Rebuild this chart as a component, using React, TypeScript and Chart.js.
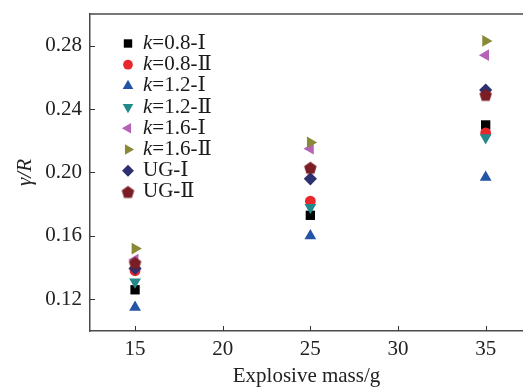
import React, { useEffect, useRef } from "react";
import { Chart, registerables } from "chart.js";
import { drawPoint } from "chart.js/helpers";

Chart.register(...registerables);

// ---------- data ----------
const MASSES = [15, 25, 35];
const K08_I = [0.126, 0.173, 0.230];
const K08_II = [0.138, 0.182, 0.225];
const K12_I = [0.115, 0.160, 0.197];
const K12_II = [0.131, 0.178, 0.222];
const K16_I = [0.145, 0.215, 0.274];
const K16_II = [0.152, 0.219, 0.283];
const UG_I = [0.1395, 0.196, 0.252];
const UG_II = [0.143, 0.203, 0.249];

const SERIES_LABELS = [
  "k=0.8-\u2160",
  "k=0.8-\u2161",
  "k=1.2-\u2160",
  "k=1.2-\u2161",
  "k=1.6-\u2160",
  "k=1.6-\u2161",
  "UG-\u2160",
  "UG-\u2161",
];
const X_TICKS = [15, 20, 25, 30, 35];
const Y_TICKS = [0.12, 0.16, 0.2, 0.24, 0.28];
const X_RANGE = [12.43, 37.13];
const Y_RANGE = [0.1, 0.3];
const X_TITLE = "Explosive mass/g";
const Y_TITLE = "\u03b3/R";

const FONT = "'Liberation Serif', 'DejaVu Serif', 'Times New Roman', serif";
const FS = 21;

function makePentagon(color: string, size: number, r: number) {
  const c = document.createElement("canvas");
  c.width = size;
  c.height = size;
  const ctx = c.getContext("2d")!;
  const cx = size / 2;
  const cy = size / 2 + (r * (1 - Math.cos(Math.PI / 5))) / 2;
  ctx.beginPath();
  for (let i = 0; i < 5; i++) {
    const a = -Math.PI / 2 + (i * 2 * Math.PI) / 5;
    const px = cx + r * Math.cos(a);
    const py = cy + r * Math.sin(a);
    if (i === 0) ctx.moveTo(px, py);
    else ctx.lineTo(px, py);
  }
  ctx.closePath();
  ctx.fillStyle = color;
  ctx.fill();
  return c;
}

export default function App() {
  const ref = useRef<HTMLCanvasElement | null>(null);

  useEffect(() => {
    if (!ref.current) return;
    const pentagon = makePentagon("#7a1d24", 15, 6.6);

    const styles: any[] = [
      { color: "#000000", pointStyle: "rect", rotation: 0, radius: 6.6 },
      { color: "#e8282c", pointStyle: "circle", rotation: 0, radius: 5.4 },
      { color: "#2454a6", pointStyle: "triangle", rotation: 0, radius: 6.8 },
      { color: "#23898a", pointStyle: "triangle", rotation: 180, radius: 6.8 },
      { color: "#b463b6", pointStyle: "triangle", rotation: 270, radius: 6.8 },
      { color: "#8a8a36", pointStyle: "triangle", rotation: 90, radius: 6.8 },
      { color: "#2c2f70", pointStyle: "rectRot", rotation: 0, radius: 6.6 },
      { color: "#7a1d24", pointStyle: pentagon, rotation: 0, radius: 6.6 },
    ];
    const values = [K08_I, K08_II, K12_I, K12_II, K16_I, K16_II, UG_I, UG_II];
    const n = values.length;

    const datasets = values.map((vals, i) => ({
      label: SERIES_LABELS[i],
      data: MASSES.map((m, j) => ({ x: m, y: vals[j] })),
      pointStyle: styles[i].pointStyle,
      rotation: styles[i].rotation,
      pointRadius: styles[i].radius,
      pointHoverRadius: styles[i].radius,
      pointBackgroundColor: styles[i].color,
      pointBorderWidth: 0,
      borderWidth: 0,
      showLine: false,
      order: n - i,
    }));

    const decor = {
      id: "decor",
      afterDraw(chart: any) {
        const { ctx, chartArea } = chart;
        const { left, right, top, bottom } = chartArea;
        const xs = chart.scales.x;
        const ys = chart.scales.y;
        ctx.save();
        // top frame line
        ctx.strokeStyle = "#4a4a4a";
        ctx.lineWidth = 1.5;
        ctx.beginPath();
        ctx.moveTo(left, top);
        ctx.lineTo(right, top);
        ctx.stroke();
        // inward ticks
        ctx.strokeStyle = "#333";
        ctx.lineWidth = 1;
        ctx.beginPath();
        X_TICKS.forEach((v) => {
          const px = Math.round(xs.getPixelForValue(v)) + 0.5;
          ctx.moveTo(px, bottom);
          ctx.lineTo(px, bottom - 5);
        });
        Y_TICKS.forEach((v) => {
          const py = Math.round(ys.getPixelForValue(v)) + 0.5;
          ctx.moveTo(left, py);
          ctx.lineTo(left + 5, py);
        });
        ctx.stroke();

        // legend
        const mx = 128;
        const tx = 143;
        const y0 = 43.5;
        const dy = 21.2;
        ctx.textBaseline = "middle";
        ctx.textAlign = "left";
        SERIES_LABELS.forEach((lab, i) => {
          const yy = y0 + i * dy;
          ctx.fillStyle = styles[i].color;
          drawPoint(
            ctx,
            {
              pointStyle: styles[i].pointStyle,
              rotation: styles[i].rotation,
              radius: styles[i].radius * 0.9,
              borderWidth: 0,
            } as any,
            mx,
            yy
          );
          ctx.fillStyle = "#1a1a1a";
          let x = tx;
          let rest = lab;
          if (lab.startsWith("k")) {
            ctx.font = `italic ${FS}px ${FONT}`;
            ctx.fillText("k", x, yy);
            x += ctx.measureText("k").width;
            rest = lab.slice(1);
          }
          ctx.font = `${FS}px ${FONT}`;
          ctx.fillText(rest, x, yy);
        });
        ctx.restore();
      },
    };

    const chart = new Chart(ref.current, {
      type: "scatter",
      data: { datasets },
      plugins: [decor],
      options: {
        animation: false,
        responsive: false,
        maintainAspectRatio: false,
        devicePixelRatio: 1,
        layout: { autoPadding: false, padding: { top: 14, right: 0, left: 0, bottom: 0 } },
        plugins: {
          legend: { display: false },
          tooltip: { enabled: false },
        },
        scales: {
          x: {
            type: "linear",
            min: X_RANGE[0],
            max: X_RANGE[1],
            afterBuildTicks: (s: any) => {
              s.ticks = X_TICKS.map((v) => ({ value: v }));
            },
            afterFit: (s: any) => {
              s.height = 57;
              s.paddingLeft = 0;
              s.paddingRight = 0;
            },
            grid: { display: false, drawTicks: false },
            border: { display: true, color: "#4a4a4a", width: 1.5 },
            ticks: {
              color: "#222",
              font: { family: FONT, size: FS },
              padding: 6,
              maxRotation: 0,
              autoSkip: false,
            },
            title: {
              display: true,
              text: X_TITLE,
              color: "#222",
              font: { family: FONT, size: FS, lineHeight: 1 },
              padding: { top: 0, bottom: 1 },
            },
          },
          y: {
            type: "linear",
            min: Y_RANGE[0],
            max: Y_RANGE[1],
            afterBuildTicks: (s: any) => {
              s.ticks = Y_TICKS.map((v) => ({ value: v }));
            },
            afterFit: (s: any) => {
              s.width = 90;
              s.paddingTop = 0;
              s.paddingBottom = 0;
            },
            grid: { display: false, drawTicks: false },
            border: { display: true, color: "#4a4a4a", width: 1.5 },
            ticks: {
              color: "#222",
              font: { family: FONT, size: FS },
              padding: 8,
              autoSkip: false,
              callback: (v: any) => Number(v).toFixed(2),
            },
            title: {
              display: true,
              text: Y_TITLE,
              color: "#222",
              font: { family: FONT, size: FS, style: "italic", lineHeight: 1 },
              padding: { top: 15, bottom: 0 },
            },
          },
        },
      } as any,
    });
    return () => chart.destroy();
  }, []);

  return (
    <div
      style={{
        position: "fixed",
        left: 0,
        top: 0,
        width: 523,
        height: 388,
        overflow: "hidden",
        background: "#fff",
      }}
    >
      <canvas ref={ref} width={523} height={388} style={{ display: "block", width: 523, height: 388 }} />
    </div>
  );
}
